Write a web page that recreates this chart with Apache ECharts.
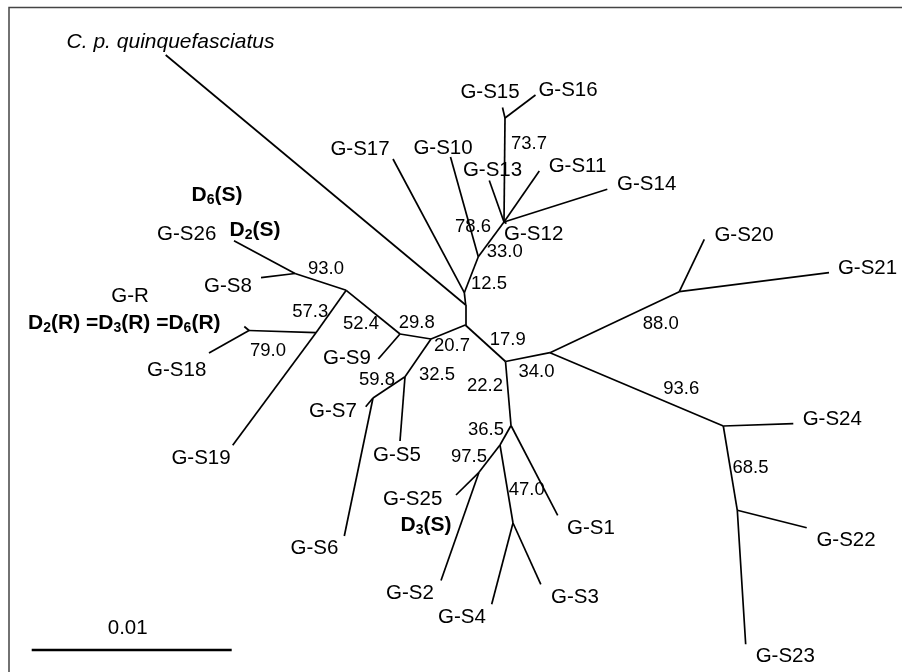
<!DOCTYPE html>
<html><head><meta charset="utf-8">
<script src="https://cdn.jsdelivr.net/npm/echarts@6/dist/echarts.min.js"></script>
<style>html,body{margin:0;padding:0;background:#fff}#c{width:902px;height:672px}</style>
</head><body><div id="c"></div>
<script>
// ---- Tree data (node positions, in layout units; 20000 units = 1 substitution/site) ----
const tipNodes = [
  ['cpq',165.7,55],['s17',393,159],['s10',450.5,157],['s13',489.3,180.5],['s15',502.5,107.5],
  ['s16',535.5,95],['s11',539.3,171],['s14',607.3,189.3],['s12',506.5,223.5],['s20',704.3,239.3],
  ['s21',829,272.7],['s24',793.3,423.7],['s22',806.7,527.7],['s23',745.7,644.3],['s1',557.7,515.3],
  ['s3',540.8,584.3],['s4',491.7,604.2],['s2',441,580.5],['s25',456,495],['s5',400,441],
  ['s6',344.3,536],['s7',365.7,406.7],['s9',378.3,359],['s19',232.7,445.3],['s18',209,353],
  ['gr',244.3,326.5],['s8',261,277.7],['s26',234,240.7]
];
const internalNodes = [
  ['A',295,273.5],['B',346.2,290.3],['C',316,332.7],['D',249,330.5],['E',400,334],
  ['F',431,339],['G',405,376.7],['H',373,398],['R',465.3,325],['W',465.7,305],
  ['V',464.3,292.7],['I',478.3,256.7],['T',504,222],['U',505,118],['J',505.5,361.5],
  ['K',550,352.7],['L',679.3,291.7],['M',723.3,426],['N',737.3,510.3],['O',511,425.5],
  ['P',500,445],['Q',479,472.3],['S',513,523]
];
const edges = [
  ['A','s26'],['A','s8'],['A','B'],['B','C'],['C','D'],['D','gr'],['D','s18'],['C','s19'],
  ['B','E'],['E','s9'],['E','F'],['F','G'],['G','s5'],['G','H'],['H','s7'],['H','s6'],
  ['F','R'],['R','W'],['W','cpq'],['W','V'],['V','s17'],['V','I'],['I','s10'],['I','T'],
  ['T','s13'],['T','U'],['U','s15'],['U','s16'],['T','s11'],['T','s14'],['T','s12'],
  ['R','J'],['J','K'],['K','L'],['L','s20'],['L','s21'],['K','M'],['M','s24'],['M','N'],
  ['N','s22'],['N','s23'],['J','O'],['O','s1'],['O','P'],['P','Q'],['Q','s25'],['Q','s2'],
  ['P','S'],['S','s4'],['S','s3']
];
const tipNames = [
  ['cpq','C. p. quinquefasciatus'],['s17','G-S17'],['s10','G-S10'],['s15','G-S15'],['s16','G-S16'],
  ['s13','G-S13'],['s11','G-S11'],['s14','G-S14'],['s12','G-S12'],['s20','G-S20'],['s21','G-S21'],
  ['s24','G-S24'],['s22','G-S22'],['s23','G-S23'],['s1','G-S1'],['s3','G-S3'],['s4','G-S4'],
  ['s2','G-S2'],['s25','G-S25'],['s5','G-S5'],['s6','G-S6'],['s7','G-S7'],['s9','G-S9'],
  ['s19','G-S19'],['s18','G-S18'],['gr','G-R'],['s8','G-S8'],['s26','G-S26']
];
const bootstrapValues = ['93.0','57.3','79.0','52.4','29.8','20.7','32.5','59.8','12.5','78.6','33.0',
  '73.7','17.9','34.0','88.0','93.6','68.5','22.2','36.5','97.5','47.0'];
const genotypeNotes = ['D|6|(S)','D|2|(S)','D|2|(R) =D|3|(R) =D|6|(R)','D|3|(S)'];
const scaleBarValue = 0.01;
const unitsPerSubstitution = 20000;
const scaleLabel = '0.01';

// ---- Layout (label centres, in the same layout units) ----
const tipLabelPos = {
  cpq:[170.5,42],s17:[360,149.5],s10:[443,148],s15:[490,92],s16:[568,90],s13:[492.5,170],
  s11:[577.5,166.7],s14:[646.7,184.3],s12:[533.7,234.3],s20:[744,235],s21:[867.5,268.3],
  s24:[832.3,419.3],s22:[846,540],s23:[785.3,656.7],s1:[591,528.3],s3:[575,597.7],s4:[462,617.7],
  s2:[410,593.3],s25:[412.7,499.3],s5:[397,455],s6:[314.5,548.3],s7:[333,411.7],s9:[347,358.3],
  s19:[201,458.3],s18:[176.7,370.3],gr:[130,296.7],s8:[228,286.7],s26:[186.7,234]
};
const bootstrapPos = [[326,269.3],[310.3,311.7],[268,350.7],[361,324.3],[416.7,322.7],[452,346],
  [437,375],[377,380.3],[489,284.3],[473,227],[504.7,251.7],[529,144],[507.7,340],[536.5,371.7],
  [660.7,324],[681.3,389.3],[750.5,468.3],[485,386],[486,430],[469,456.7],[526.7,490]];
const notePos = [[217,195],[255,230],[124.3,323.5],[426,525.5]];
const scaleBarStart = [31.7,649.3];
const scaleLabelPos = [127.7,628.7];

// ---- Build ----
const pos = {};
tipNodes.concat(internalNodes).forEach(n => { pos[n[0]] = [n[1], n[2]]; });
const edgeData = edges.map(e => ({coords: [pos[e[0]], pos[e[1]]]}));
const scaleEnd = [scaleBarStart[0] + scaleBarValue * unitsPerSubstitution, scaleBarStart[1]];

const tipData = tipNames.filter(t => t[0] !== 'cpq').map(t => ({value: tipLabelPos[t[0]].concat([t[1]])}));
const cpqName = tipNames.find(t => t[0] === 'cpq');
const bsData = bootstrapValues.map((v, i) => ({value: bootstrapPos[i].concat([v])}));
const noteData = genotypeNotes.map((v, i) => ({value: notePos[i].concat([v])}));

function noteRich(s) {
  const parts = s.split('|');
  return parts.map((p, i) => (i % 2 ? '{s|' + p + '}' : '{b|' + p + '}')).join('');
}

const FONT = '"Liberation Sans", Arial, sans-serif';
const textSeries = (data, label) => ({
  type: 'scatter', coordinateSystem: 'cartesian2d', symbolSize: 0, silent: true,
  itemStyle: {color: '#000', opacity: 0},
  data: data,
  label: Object.assign({show: true, position: 'inside', color: '#000', fontFamily: FONT,
    textBorderWidth: 0, textBorderColor: 'transparent', opacity: 1,
    formatter: p => p.value[2]}, label)
});

const chart = echarts.init(document.getElementById('c'));
chart.setOption({
  animation: false,
  backgroundColor: '#fff',
  grid: {left: 0, right: 0, top: 0, bottom: 0},
  xAxis: {type: 'value', min: 0, max: 902, show: false},
  yAxis: {type: 'value', min: 0, max: 672, inverse: true, show: false},
  graphic: [{type: 'rect', shape: {x: 9, y: 7.5, width: 1000, height: 1000},
    style: {fill: 'none', stroke: '#444', lineWidth: 1.5}, silent: true}],
  series: [
    {type: 'lines', coordinateSystem: 'cartesian2d', silent: true, data: edgeData,
      lineStyle: {color: '#000', width: 1.7, opacity: 1, curveness: 0}},
    {type: 'lines', coordinateSystem: 'cartesian2d', silent: true,
      data: [{coords: [scaleBarStart, scaleEnd]}],
      lineStyle: {color: '#000', width: 2.3, opacity: 1}},
    textSeries(tipData, {fontSize: 20.5}),
    textSeries([{value: tipLabelPos.cpq.concat([cpqName[1]])}], {fontSize: 21, fontStyle: 'italic'}),
    textSeries(bsData, {fontSize: 18.5}),
    textSeries([{value: scaleLabelPos.concat([scaleLabel])}], {fontSize: 20.5}),
    textSeries(noteData, {
      formatter: p => noteRich(p.value[2]),
      rich: {
        b: {fontSize: 21, fontWeight: 'bold', fontFamily: FONT, color: '#000', lineHeight: 24},
        s: {fontSize: 14, fontWeight: 'bold', fontFamily: FONT, color: '#000', lineHeight: 10, verticalAlign: 'bottom'}
      }
    })
  ]
});
</script></body></html>
